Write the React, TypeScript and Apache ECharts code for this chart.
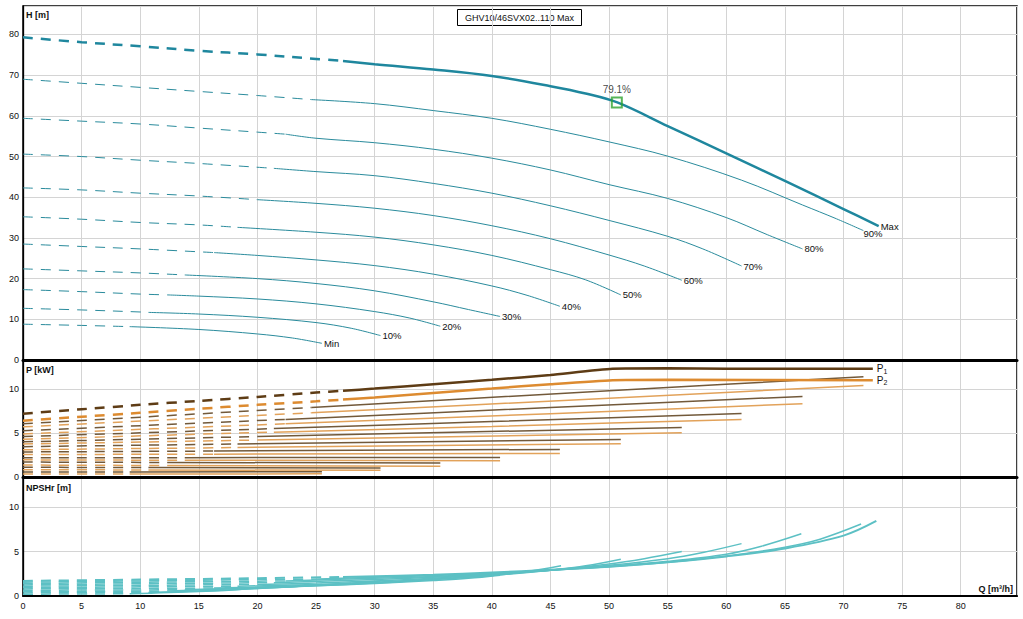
import React, { useEffect, useRef } from 'react';
import * as echarts from 'echarts';

// ---------------- data ----------------
const qMax = 84.8;
const qTicks = 5;
const speedNames = ['Max', '90%', '80%', '70%', '60%', '50%', '40%', '30%', '20%', '10%', 'Min'];
// flow where each curve changes from dashed to solid
const splitQ = [27.3, 24.6, 22.4, 21.4, 20.0, 18.3, 16.3, 13.8, 12.3, 10.7, 9.1];

// H [m] vs Q [m3/h]
const headMax = [[0, 79.3], [5, 78.1], [10, 77.1], [15, 76.0], [20, 75.1], [25, 74.0], [27.3, 73.5], [30, 72.7], [35, 71.4], [40, 69.8], [45, 67.3], [48, 65.5], [50.7, 63.3], [55, 57.5], [60, 50.8], [65, 44.0], [70, 37.1], [73, 32.9]];
const head90 = [[0, 69.0], [5, 68.0], [10, 67.0], [15, 66.0], [20, 65.0], [24.6, 64.0], [30, 63.0], [35, 61.3], [40, 59.4], [45, 56.7], [50, 53.6], [55, 50.1], [61.3, 44.2], [66.5, 38.1], [69.4, 34.7], [71.7, 31.8]];
const head80 = [[0, 59.4], [5, 58.7], [10, 58.0], [15, 57.0], [20, 56.0], [22.4, 55.5], [25, 54.5], [30, 53.4], [35, 51.8], [40, 49.6], [45, 46.7], [50, 43.1], [55, 39.7], [60, 35.0], [63.5, 30.8], [66.5, 27.3]];
const head70 = [[0, 50.6], [5, 50.0], [10, 49.1], [15, 48.3], [21.4, 47.1], [25, 46.3], [30, 45.3], [35, 43.4], [40, 41.0], [45, 37.9], [50, 34.3], [55, 30.4], [58, 27.3], [61.3, 23.1]];
const head60 = [[0, 42.3], [5, 41.8], [10, 41.0], [15, 40.3], [20, 39.4], [25, 38.5], [30, 37.3], [35, 35.5], [40, 33.0], [45, 29.8], [50, 25.8], [53, 23.1], [56.2, 19.6]];
const head50 = [[0, 35.2], [5, 34.6], [10, 33.8], [15, 33.2], [18.3, 32.6], [25, 31.4], [30, 30.2], [35, 28.3], [40, 25.7], [45, 22.2], [48, 19.7], [51, 16.0]];
const head40 = [[0, 28.5], [5, 27.9], [10, 27.3], [16.3, 26.4], [20, 25.7], [25, 24.6], [30, 23.2], [35, 21.1], [40, 18.2], [43, 15.9], [45.8, 13.2]];
const head30 = [[0, 22.4], [5, 21.9], [10, 21.4], [13.8, 20.9], [20, 20.0], [25, 18.8], [30, 17.0], [35, 14.3], [38, 12.4], [40.7, 10.7]];
const head20 = [[0, 17.3], [5, 16.8], [10, 16.2], [12.3, 16.0], [15, 15.7], [20, 15.0], [25, 13.8], [30, 11.9], [33, 10.3], [35.6, 8.3]];
const head10 = [[0, 12.7], [5, 12.3], [10, 11.8], [10.7, 11.7], [15, 11.3], [20, 10.5], [25, 9.2], [28, 7.8], [30.5, 6.0]];
const headMin = [[0, 8.8], [5, 8.5], [9.1, 8.2], [15, 7.5], [20, 6.4], [23, 5.4], [25.5, 4.1]];
const headCurves = [headMax, head90, head80, head70, head60, head50, head40, head30, head20, head10, headMin];

// P1 [kW]
const p1Max = [[0, 7.2], [5, 7.7], [10, 8.2], [15, 8.65], [20, 9.1], [25, 9.6], [27.3, 9.8], [30, 10.05], [35, 10.55], [40, 11.05], [45, 11.6], [50.3, 12.3], [55, 12.35], [60, 12.3], [72.5, 12.3]];
const p1_90 = [[0, 6.05], [24.6, 7.9], [50, 9.8], [71.7, 11.4]];
const p1_80 = [[0, 5.26], [22.4, 6.55], [45, 7.9], [66.5, 9.16]];
const p1_70 = [[0, 4.6], [21.4, 5.5], [40, 6.3], [61.3, 7.23]];
const p1_60 = [[0, 4.0], [20, 4.6], [56.2, 5.64]];
const p1_50 = [[0, 3.45], [18.3, 3.75], [51, 4.27]];
const p1_40 = [[0, 2.85], [16.3, 2.95], [45.8, 3.14]];
const p1_30 = [[0, 2.2], [13.8, 2.2], [40.7, 2.23]];
const p1_20 = [[0, 1.7], [12.3, 1.65], [35.6, 1.6]];
const p1_10 = [[0, 1.1], [10.7, 1.08], [30.5, 1.03]];
const p1Min = [[0, 0.57], [9.1, 0.57], [25.5, 0.6]];
const p1Curves = [p1Max, p1_90, p1_80, p1_70, p1_60, p1_50, p1_40, p1_30, p1_20, p1_10, p1Min];

// P2 [kW]
const p2Max = [[0, 6.4], [5, 6.85], [10, 7.3], [15, 7.75], [20, 8.2], [25, 8.6], [27.3, 8.8], [30, 9.05], [35, 9.55], [40, 10.05], [45, 10.55], [50.3, 11.0], [55, 11.05], [72.5, 11.0]];
const p2_90 = [[0, 5.7], [24.6, 7.3], [50, 8.95], [71.7, 10.4]];
const p2_80 = [[0, 4.9], [22.4, 6.05], [45, 7.2], [66.5, 8.33]];
const p2_70 = [[0, 4.3], [21.4, 5.1], [40, 5.75], [61.3, 6.55]];
const p2_60 = [[0, 3.75], [20, 4.2], [56.2, 5.03]];
const p2_50 = [[0, 3.1], [18.3, 3.35], [51, 3.78]];
const p2_40 = [[0, 2.55], [16.3, 2.6], [45.8, 2.68]];
const p2_30 = [[0, 1.95], [13.8, 1.9], [40.7, 1.86]];
const p2_20 = [[0, 1.36], [12.3, 1.3], [35.6, 1.22]];
const p2_10 = [[0, 0.83], [10.7, 0.8], [30.5, 0.76]];
const p2Min = [[0, 0.34], [9.1, 0.34], [25.5, 0.36]];
const p2Curves = [p2Max, p2_90, p2_80, p2_70, p2_60, p2_50, p2_40, p2_30, p2_20, p2_10, p2Min];

// NPSHr [m]
const npshMax = [[0, 1.7], [10, 1.85], [20, 2.0], [27.3, 2.15], [35, 2.4], [40, 2.65], [45, 2.95], [50, 3.3], [55, 3.8], [60, 4.45], [65, 5.35], [70, 6.8], [72.8, 8.45]];
const npsh90 = [[0, 1.55], [10, 1.7], [20, 1.85], [24.6, 1.9], [30, 2.1], [35, 2.3], [40, 2.55], [45, 2.9], [50, 3.3], [55, 3.8], [60, 4.5], [65, 5.5], [68, 6.4], [71.5, 8.1]];
const npsh80 = [[0, 1.4], [10, 1.55], [22.4, 1.7], [30, 2.0], [35, 2.2], [40, 2.5], [45, 2.9], [50, 3.35], [55, 3.9], [60, 4.7], [63, 5.6], [66.4, 7.0]];
const npsh70 = [[0, 1.25], [10, 1.38], [21.4, 1.5], [30, 1.85], [35, 2.1], [40, 2.45], [45, 2.9], [50, 3.45], [55, 4.2], [58, 4.9], [61.3, 5.9]];
const npsh60 = [[0, 1.1], [10, 1.2], [20, 1.3], [25, 1.45], [30, 1.7], [35, 2.0], [40, 2.4], [45, 2.9], [50, 3.6], [53, 4.2], [56.2, 5.0]];
const npsh50 = [[0, 0.95], [10, 1.03], [18.3, 1.1], [25, 1.3], [30, 1.55], [35, 1.9], [40, 2.3], [45, 2.9], [48, 3.4], [51, 4.15]];
const npsh40 = [[0, 0.8], [10, 0.85], [16.3, 0.9], [20, 1.0], [25, 1.2], [30, 1.5], [35, 1.85], [40, 2.3], [43, 2.75], [45.9, 3.4]];
const npsh30 = [[0, 0.65], [13.8, 0.7], [20, 0.95], [25, 1.15], [30, 1.4], [35, 1.75], [38, 2.0], [40.7, 2.35]];
const npsh20 = [[0, 0.5], [12.3, 0.55], [20, 0.9], [25, 1.15], [30, 1.45], [33, 1.7], [35.6, 2.0]];
const npsh10 = [[0, 0.35], [10.7, 0.4], [15, 0.55], [20, 0.85], [25, 1.2], [28, 1.45], [30.5, 1.7]];
const npshMin = [[0, 0.2], [9.1, 0.25], [15, 0.5], [20, 0.85], [23, 1.05], [25.5, 1.3]];
const npshCurves = [npshMax, npsh90, npsh80, npsh70, npsh60, npsh50, npsh40, npsh30, npsh20, npsh10, npshMin];

const bepPoint = [50.66, 63.3];
const bepLabel = '79.1%';
const titleText = 'GHV10/46SVX02..110 Max';

const hTicks = 10;
const hMax = 87;
const pTicks = 5;
const pMax = 13.3;
const nMax = 13.4;

// ---------------- styles ----------------
const FONT = '"Liberation Sans", Arial, sans-serif';
const headColor = '#1f879e';
const headThin = '#2a8b9c';
const p1MaxColor = '#5e3c15';
const p2MaxColor = '#dd8b30';
const p1Thin = '#72593a';
const p2Thin = '#e2a25a';
const npshColor = '#5cc0c4';
const DASH = [10, 8];
const gridColor = '#d4d4d4';
const SMOOTH = 0.35;

function part(pts: number[][], q: number, dashed: boolean) {
  return pts.filter((p) => (dashed ? p[0] <= q : p[0] >= q));
}

function buildSeries() {
  const series: any[] = [];
  for (let i = speedNames.length - 1; i >= 0; i--) {
    const q = splitQ[i];
    const isMax = i === 0;
    // NPSH
    const nStyle = { color: npshColor, width: isMax ? 2 : 1.5 };
    series.push({
      type: 'line', xAxisIndex: 2, yAxisIndex: 2, data: part(npshCurves[i], q, true),
      symbol: 'none', smooth: SMOOTH, silent: true,
      lineStyle: { ...nStyle, type: DASH },
    });
    series.push({
      type: 'line', xAxisIndex: 2, yAxisIndex: 2, data: part(npshCurves[i], q, false),
      symbol: 'none', smooth: SMOOTH, silent: true,
      lineStyle: { ...nStyle, type: 'solid' },
    });
    // P2 then P1
    const pDefs = [
      { pts: p2Curves[i], color: isMax ? p2MaxColor : p2Thin, lbl: '{a|P}{b|2}' },
      { pts: p1Curves[i], color: isMax ? p1MaxColor : p1Thin, lbl: '{a|P}{b|1}' },
    ];
    pDefs.forEach((d) => {
      const ls = { color: d.color, width: isMax ? 2.5 : 1.5 };
      series.push({
        type: 'line', xAxisIndex: 1, yAxisIndex: 1, data: part(d.pts, q, true),
        symbol: 'none', smooth: 0.2, silent: true,
        lineStyle: { ...ls, type: DASH },
      });
      series.push({
        type: 'line', xAxisIndex: 1, yAxisIndex: 1, data: part(d.pts, q, false),
        symbol: 'none', smooth: 0.2, silent: true,
        lineStyle: { ...ls, type: 'solid' },
        endLabel: isMax
          ? {
              show: true, formatter: d.lbl, distance: 4, color: '#111',
              rich: {
                a: { fontSize: 10, lineHeight: 12, fontFamily: FONT, color: '#111' },
                b: { fontSize: 7, lineHeight: 7, verticalAlign: 'bottom', fontFamily: FONT, color: '#111' },
              },
            }
          : { show: false },
      });
    });
    // Head
    const hs = { color: isMax ? headColor : headThin, width: isMax ? 2.5 : 1 };
    series.push({
      type: 'line', xAxisIndex: 0, yAxisIndex: 0, data: part(headCurves[i], q, true),
      symbol: 'none', smooth: SMOOTH, silent: true,
      lineStyle: { ...hs, type: DASH },
    });
    series.push({
      type: 'line', xAxisIndex: 0, yAxisIndex: 0, data: part(headCurves[i], q, false),
      symbol: 'none', smooth: SMOOTH, silent: true,
      lineStyle: { ...hs, type: 'solid' },
      endLabel: {
        show: true, formatter: speedNames[i], distance: 2,
        offset: i === 1 ? [-2, 3] : [0, 0],
        fontSize: 9.5, color: '#111', fontFamily: FONT,
      },
    });
  }
  series.push({
    type: 'scatter', xAxisIndex: 0, yAxisIndex: 0, data: [bepPoint],
    symbol: 'rect', symbolSize: 10, z: 10, silent: true,
    itemStyle: { color: 'rgba(255,255,255,0)', borderColor: '#2ea32e', borderWidth: 2 },
    label: { show: true, position: 'top', distance: 2, formatter: bepLabel, fontSize: 10, color: '#111', fontFamily: FONT },
  });
  return series;
}

const hideOff = (step: number) => (v: number) => (Math.abs(v / step - Math.round(v / step)) < 1e-6 ? String(v) : '');

function xAxisDef(gridIndex: number, bottom: boolean) {
  return {
    type: 'value', gridIndex, min: 0, max: qMax, interval: qTicks,
    axisLine: { show: true, onZero: false, lineStyle: { color: '#000', width: bottom ? 2 : 3 } },
    axisTick: { show: false },
    axisLabel: bottom
      ? { show: true, fontSize: 9, color: '#111', margin: 5, fontFamily: FONT, formatter: hideOff(qTicks) }
      : { show: false },
    splitLine: { show: true, lineStyle: { color: gridColor, width: 1 } },
  };
}

function yAxisDef(gridIndex: number, max: number, step: number) {
  return {
    type: 'value', gridIndex, min: 0, max, interval: step,
    axisLine: { show: true, lineStyle: { color: '#000', width: 1.3 } },
    axisTick: { show: false },
    axisLabel: { fontSize: 9, color: '#111', margin: 4, fontFamily: FONT, formatter: hideOff(step) },
    splitLine: { show: true, lineStyle: { color: gridColor, width: 1 } },
  };
}

export default function App() {
  const ref = useRef<HTMLDivElement>(null);
  useEffect(() => {
    document.body.style.margin = '0';
    if (!ref.current) return;
    const chart = echarts.init(ref.current, undefined, { renderer: 'svg' });
    const titleStyle = { fontSize: 9, fontWeight: 'bold', fontFamily: FONT, fill: '#111', verticalAlign: 'middle', align: 'left' };
    chart.setOption({
      animation: false,
      backgroundColor: '#fff',
      textStyle: { fontFamily: FONT },
      grid: [
        { left: 23, top: 6, width: 994, height: 354, show: true, borderColor: '#000', borderWidth: 1.5, backgroundColor: '#fff' },
        { left: 23, top: 360, width: 994, height: 117, show: true, borderColor: '#000', borderWidth: 1.5, backgroundColor: 'rgba(0,0,0,0)' },
        { left: 23, top: 477, width: 994, height: 119, show: true, borderColor: '#000', borderWidth: 1.5, backgroundColor: 'rgba(0,0,0,0)' },
      ],
      xAxis: [xAxisDef(0, false), xAxisDef(1, false), xAxisDef(2, true)],
      yAxis: [yAxisDef(0, hMax, hTicks), yAxisDef(1, pMax, pTicks), yAxisDef(2, nMax, pTicks)],
      series: buildSeries(),
      graphic: [
        { type: 'text', x: 26, y: 15, z: 20, style: { ...titleStyle, text: 'H [m]' } },
        { type: 'text', x: 26, y: 370, z: 20, style: { ...titleStyle, text: 'P [kW]' } },
        { type: 'text', x: 26, y: 488, z: 20, style: { ...titleStyle, text: 'NPSHr [m]' } },
        { type: 'text', x: 1013, y: 589, z: 20, style: { ...titleStyle, text: 'Q [m³/h]', align: 'right' } },
        {
          type: 'group', z: 20,
          children: [
            { type: 'rect', shape: { x: 457.5, y: 9.5, width: 124, height: 16 }, style: { fill: '#fff', stroke: '#000', lineWidth: 1 } },
            { type: 'text', x: 519.5, y: 17.5, style: { text: titleText, fontSize: 9, fontFamily: FONT, fill: '#111', align: 'center', verticalAlign: 'middle' } },
          ],
        },
      ],
    });
    return () => chart.dispose();
  }, []);
  return <div ref={ref} style={{ position: 'absolute', left: 0, top: 0, width: 1023, height: 619, background: '#fff' }} />;
}
